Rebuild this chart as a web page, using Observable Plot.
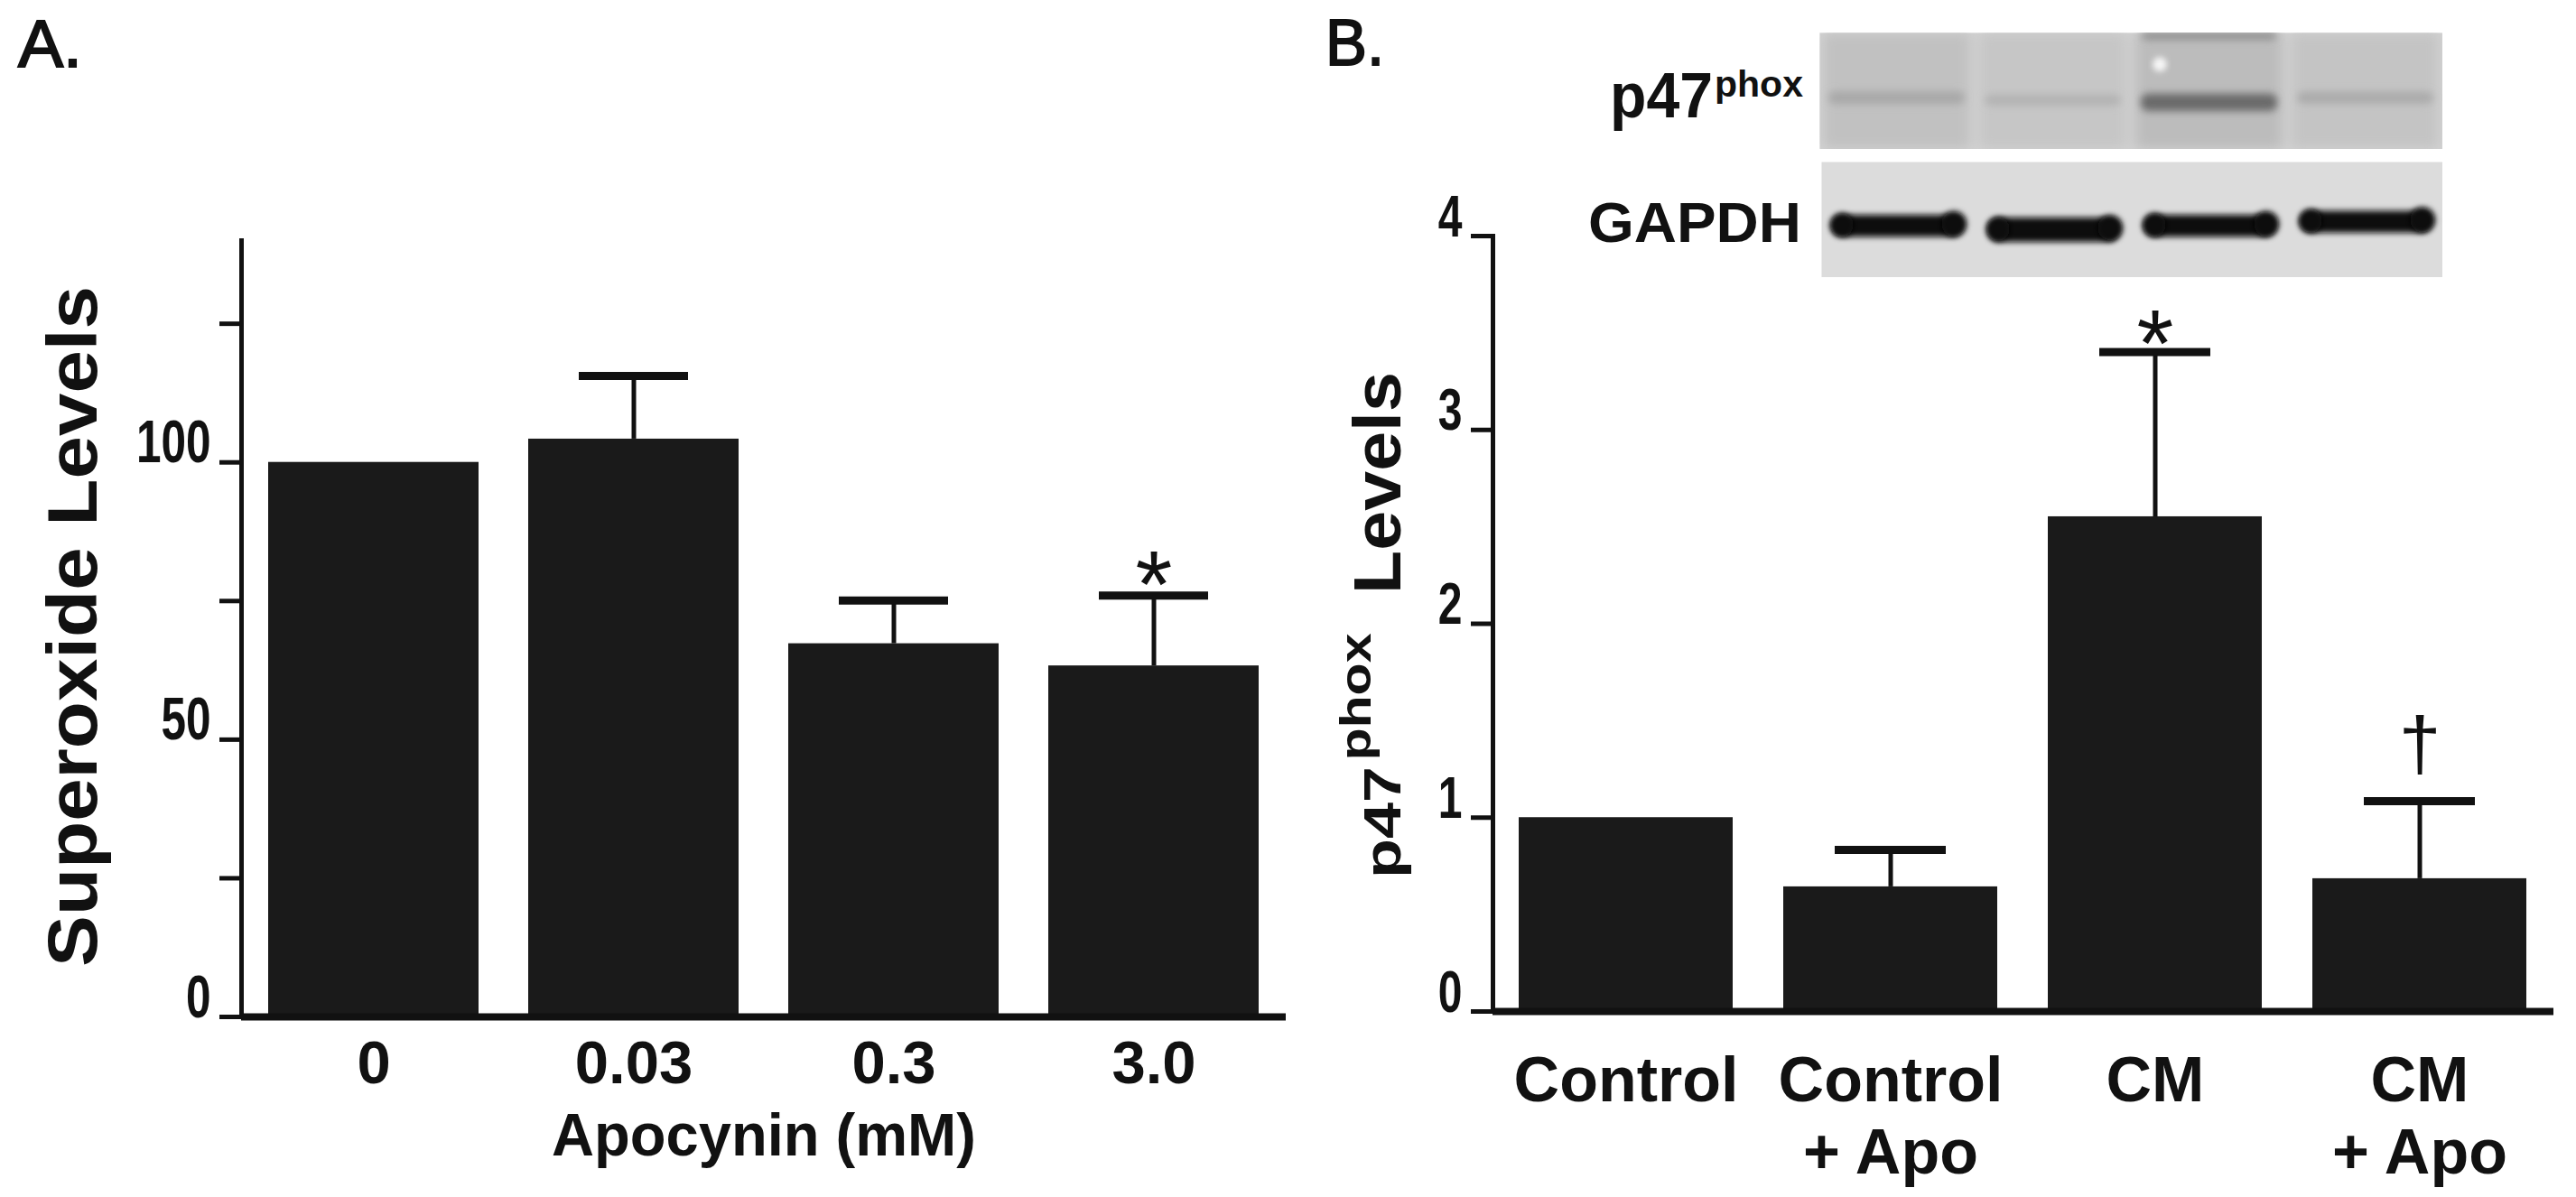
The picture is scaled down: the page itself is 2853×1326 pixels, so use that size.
<!DOCTYPE html>
<html>
<head>
<meta charset="utf-8">
<script src="https://cdn.jsdelivr.net/npm/d3@7"></script>
<script src="https://cdn.jsdelivr.net/npm/@observablehq/plot@0.6"></script>
<style>
  html, body { margin: 0; padding: 0; background: #fff; }
  #wrap { position: relative; width: 2853px; height: 1326px; overflow: hidden; background: #fff; }
  #wrap > svg { position: absolute; max-width: none; }
</style>
</head>
<body>
<div id="wrap"></div>
<script>
// ---------- data ----------
const doses = ["0", "0.03", "0.3", "3.0"];
const superoxide = [100, 104.2, 67.3, 63.3];
const superoxideErr = [0, 11.4, 7.8, 12.7];
const superoxideSig = ["", "", "", "*"];
const superoxideTicks = [0, 25, 50, 75, 100, 125];

const groups = ["Control", "Control + Apo", "CM", "CM + Apo"];
const p47Levels = [1.0, 0.643, 2.552, 0.685];
const p47Err = [0, 0.19, 0.85, 0.40];
const p47Sig = ["", "", "*", "†"];
const p47Ticks = [0, 1, 2, 3, 4];

// western blot lanes (same order as groups)
const p47LaneTone = [193, 198, 188, 196];
const p47BandY = [0.56, 0.58, 0.60, 0.56];
const p47BandH = [0.11, 0.09, 0.15, 0.10];
const p47BandTone = [168, 178, 106, 170];
const p47TopEdge = [{lane: "CM", y: 0.03, h: 0.06, tone: 138}];
const p47Spots = [{lane: "CM", y: 0.27}];
const gapdhBandY = [0.555, 0.59, 0.555, 0.52];
const gapdhBandH = [0.19, 0.21, 0.19, 0.19];

// ---------- styling ----------
const FONT = "'Liberation Sans', Arial, Helvetica, sans-serif";
const INK = "#111111";
const BAR = "#1a1a1a";
const gray = v => `rgb(${v},${v},${v})`;
const wrap = document.getElementById("wrap");
function place(el, left, top) {
  el.style.position = "absolute";
  el.style.left = left + "px";
  el.style.top = top + "px";
  el.style.maxWidth = "none";
  wrap.appendChild(el);
  return el;
}
function condenseTicks(svg, sx) {
  d3.select(svg).selectAll('[aria-label="y-axis tick label"] text').each(function () {
    const t = d3.select(this);
    const tr = t.attr("transform") || "";
    const x = +t.attr("x") || 0, y = +t.attr("y") || 0;
    t.attr("x", null).attr("y", null).attr("transform", `${tr} translate(${x},${y}) scale(${sx},1)`);
  });
}
function addBlur(svg, selector, sd, id) {
  const s = d3.select(svg);
  let defs = s.select("defs");
  if (defs.empty()) defs = s.insert("defs", ":first-child");
  defs.append("filter").attr("id", id)
    .attr("x", "-30%").attr("y", "-60%").attr("width", "160%").attr("height", "220%")
    .append("feGaussianBlur").attr("stdDeviation", sd);
  s.selectAll(selector).attr("filter", `url(#${id})`);
}

// ---------- Panel A ----------
const dataA = doses.map((d, i) => ({dose: d, value: superoxide[i], err: superoxideErr[i], sig: superoxideSig[i]}));
const errA = dataA.filter(d => d.err > 0);
const plotA = Plot.plot({
  width: 1426, height: 1326,
  marginLeft: 267, marginRight: 2, marginTop: 266, marginBottom: 200,
  style: {fontFamily: FONT, background: "transparent", color: INK, overflow: "visible"},
  x: {type: "band", domain: doses, paddingInner: 0.19, paddingOuter: 0.1},
  y: {domain: [0, 140]},
  marks: [
    Plot.barY(dataA, {x: "dose", y: "value", fill: BAR}),
    Plot.ruleX(errA, {x: "dose", y1: "value", y2: d => d.value + d.err, stroke: INK, strokeWidth: 5}),
    Plot.tickY(errA, {x: "dose", y: d => d.value + d.err, stroke: INK, strokeWidth: 9, insetLeft: 56, insetRight: 56}),
    Plot.text(dataA.filter(d => d.sig === "*"), {x: "dose", y: d => d.value + d.err, text: "sig", fontSize: 105, lineAnchor: "bottom", dy: 24, fill: INK}),
    Plot.ruleY([0], {stroke: INK, strokeWidth: 8}),
    Plot.frame({anchor: "left", stroke: INK, strokeWidth: 5}),
    Plot.axisY({ticks: superoxideTicks, tickFormat: d => d % 50 === 0 ? String(d) : "", tickSize: 24, tickPadding: 10,
      stroke: INK, strokeWidth: 5, fontSize: 66, fontWeight: "bold", label: null}),
    Plot.axisX({tickSize: 0, tickPadding: 26, fontSize: 67, fontWeight: "bold", label: null})
  ]
});
place(plotA, 0, 0);
condenseTicks(plotA, 0.75);

// ---------- Panel B ----------
const dataB = groups.map((g, i) => ({group: g, value: p47Levels[i], err: p47Err[i], sig: p47Sig[i]}));
const errB = dataB.filter(d => d.err > 0);
const plotB = Plot.plot({
  width: 1427, height: 1326,
  marginLeft: 227, marginRight: 25, marginTop: 261, marginBottom: 206,
  style: {fontFamily: FONT, background: "transparent", color: INK, overflow: "visible"},
  x: {type: "band", domain: groups, paddingInner: 0.19, paddingOuter: 0.1},
  y: {domain: [0, 4]},
  marks: [
    Plot.barY(dataB, {x: "group", y: "value", fill: BAR}),
    Plot.ruleX(errB, {x: "group", y1: "value", y2: d => d.value + d.err, stroke: INK, strokeWidth: 5}),
    Plot.tickY(errB, {x: "group", y: d => d.value + d.err, stroke: INK, strokeWidth: 9, insetLeft: 57, insetRight: 57}),
    Plot.text(dataB.filter(d => d.sig === "*"), {x: "group", y: d => d.value + d.err, text: "sig", fontSize: 105, lineAnchor: "bottom", dy: 27, fill: INK}),
    Plot.text(dataB.filter(d => d.sig === "†"), {x: "group", y: d => d.value + d.err, text: "sig", fontSize: 84, lineAnchor: "bottom", dy: -34, fill: INK}),
    Plot.ruleY([0], {stroke: INK, strokeWidth: 8}),
    Plot.frame({anchor: "left", stroke: INK, strokeWidth: 5}),
    Plot.axisY({ticks: p47Ticks, tickFormat: d => String(d), tickSize: 24, tickPadding: 10, stroke: INK, strokeWidth: 5,
      fontSize: 64, fontWeight: "bold", label: null}),
    Plot.axisX({tickSize: 0, tickPadding: 43, fontSize: 70, fontWeight: "bold", lineHeight: 1.14,
      tickFormat: d => d.replace(" + ", "\n+ "), label: null})
  ]
});
place(plotB, 1426, 0);
condenseTicks(plotB, 0.75);

// ---------- Western blot strips ----------
const laneScale = {type: "band", domain: groups, paddingInner: 0.13, paddingOuter: 0.05};
const p47Lanes = groups.map((g, i) => ({lane: g, tone: p47LaneTone[i]}));
const p47Bands = groups.map((g, i) => ({lane: g, y: p47BandY[i], h: p47BandH[i], tone: p47BandTone[i]})).concat(p47TopEdge);
const blotP47 = Plot.plot({
  width: 690, height: 129, margin: 0,
  style: {background: "transparent", overflow: "hidden"},
  x: {...laneScale, axis: null},
  y: {domain: [0, 1], reverse: true, axis: null},
  color: {type: "identity"},
  marks: [
    Plot.frame({fill: gray(211), stroke: null}),
    Plot.cell(p47Lanes, {x: "lane", fill: d => gray(d.tone), insetLeft: -6, insetRight: -6}),
    Plot.barY(p47Bands, {x: "lane", y1: d => d.y - d.h / 2, y2: d => d.y + d.h / 2, fill: d => gray(d.tone), rx: 8}),
    Plot.dot(p47Spots, {x: "lane", y: "y", r: 8, fill: "#f6f6f6", stroke: null, dx: -55})
  ]
});
place(blotP47, 2015, 36);
addBlur(blotP47, '[aria-label="cell"]', 7, "bl-lane");
addBlur(blotP47, '[aria-label="bar"]', 4.5, "bl-band");
addBlur(blotP47, '[aria-label="dot"]', 3, "bl-spot");

const gapdhBands = groups.map((g, i) => ({lane: g, y: gapdhBandY[i], h: gapdhBandH[i]}));
const blotGapdh = Plot.plot({
  width: 688, height: 128, margin: 0,
  style: {background: "transparent", overflow: "hidden"},
  x: {...laneScale, axis: null},
  y: {domain: [0, 1], reverse: true, axis: null},
  marks: [
    Plot.frame({fill: gray(220), stroke: null}),
    Plot.barY(gapdhBands, {x: "lane", y1: d => d.y - d.h / 2, y2: d => d.y + d.h / 2, fill: "#0e0e0e", rx: 12, insetLeft: 3, insetRight: 3}),
    Plot.dot(gapdhBands, {x: "lane", y: d => d.y - 0.01, r: 13, fill: "#080808", stroke: null, dx: -62}),
    Plot.dot(gapdhBands, {x: "lane", y: d => d.y - 0.02, r: 14, fill: "#080808", stroke: null, dx: 62})
  ]
});
place(blotGapdh, 2017, 179);
addBlur(blotGapdh, '[aria-label="bar"], [aria-label="dot"]', 3.2, "bl-gapdh");

// ---------- text overlay ----------
const overlay = d3.create("svg").attr("width", 2853).attr("height", 1326).style("pointer-events", "none");
function label({text, x, y, size, weight = "bold", anchor = "start", len, rotate = 0, thicken = 0}) {
  const t = overlay.append("text")
    .attr("transform", `translate(${x},${y})` + (rotate ? ` rotate(${rotate})` : ""))
    .attr("font-family", FONT).attr("font-size", size).attr("font-weight", weight)
    .attr("text-anchor", anchor).attr("fill", INK).text(text);
  if (thicken) t.attr("stroke", INK).attr("stroke-width", thicken);
  if (len) t.attr("textLength", len).attr("lengthAdjust", "spacingAndGlyphs");
  return t;
}
label({text: "A.", x: 20, y: 74, size: 74, weight: "normal", len: 71, thicken: 2});
label({text: "B.", x: 1468, y: 72, size: 72, weight: "normal", len: 65, thicken: 2});
label({text: "Superoxide Levels", x: 107, y: 694, size: 77, anchor: "middle", len: 754, rotate: -90});
label({text: "Apocynin (mM)", x: 846, y: 1280, size: 67, anchor: "middle", len: 470});
label({text: "Levels", x: 1551, y: 535, size: 74, anchor: "middle", len: 246, rotate: -90});
label({text: "phox", x: 1518, y: 772, size: 48, anchor: "middle", len: 141, rotate: -90});
label({text: "p47", x: 1551, y: 911, size: 58, anchor: "middle", len: 124, rotate: -90});
label({text: "p47", x: 1783, y: 130, size: 70, len: 114});
label({text: "phox", x: 1899, y: 107, size: 40, len: 98});
label({text: "GAPDH", x: 1759, y: 268, size: 63, len: 236});
const ov = overlay.node();
ov.style.left = "0px"; ov.style.top = "0px";
wrap.appendChild(ov);
</script>
</body>
</html>
